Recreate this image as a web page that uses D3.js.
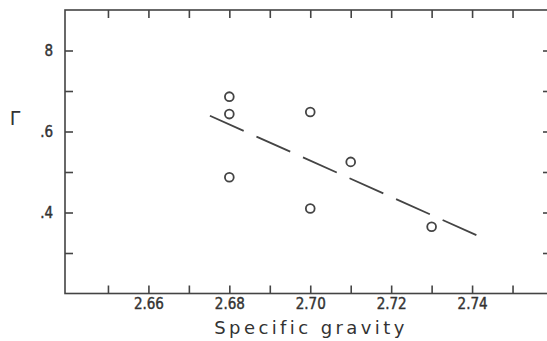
<!DOCTYPE html>
<html>
<head>
<meta charset="utf-8">
<script src="https://cdn.jsdelivr.net/npm/d3@7"></script>
<style>
  body { margin: 0; background: #fff; }
  text { font-family: "DejaVu Sans", sans-serif; fill: #333; }
</style>
</head>
<body>
<script>
// measured points (specific gravity, gamma)
const gravity = [2.68, 2.68, 2.68, 2.70, 2.70, 2.71, 2.73];
const gamma = [0.686, 0.643, 0.487, 0.648, 0.410, 0.525, 0.365];
// dashed trend line end points
const fitX = [2.6752, 2.742];
const fitY = [0.639, 0.340];
const xTicks = [2.65, 2.66, 2.67, 2.68, 2.69, 2.70, 2.71, 2.72, 2.73, 2.74, 2.75];
const xLabels = ["2.66", "2.68", "2.70", "2.72", "2.74"];
const yTicks = [0.3, 0.4, 0.5, 0.6, 0.7, 0.8];
const yLabels = { 0.8: "8", 0.6: ".6", 0.4: ".4" };

const width = 547, height = 341;
const mLeft = 65, mTop = 10, mRight = 549, mBottom = 293.5;
const ink = "#444";

const svg = d3.select("body").append("svg")
  .attr("width", width)
  .attr("height", height);

// the left frame line sits a little before 2.64
const x = d3.scaleLinear().domain([2.64, 2.76]).range([67.5, 553]);
const y = d3.scaleLinear().domain([0.2, 0.9]).range([mBottom, mTop]);

// frame
svg.append("rect")
  .attr("x", mLeft).attr("y", mTop)
  .attr("width", mRight - mLeft).attr("height", mBottom - mTop)
  .attr("fill", "none").attr("stroke", ink).attr("stroke-width", 1.6);

// inward ticks on all four sides
const fmtX = d => { const s = d.toFixed(2); return xLabels.includes(s) ? s : ""; };
const fmtY = d => yLabels[d.toFixed(1) * 1] || "";

const xb = svg.append("g").attr("transform", `translate(0,${mBottom})`)
  .call(d3.axisBottom(x).tickValues(xTicks).tickSize(-8).tickPadding(5).tickFormat(fmtX));
const xt = svg.append("g").attr("transform", `translate(0,${mTop})`)
  .call(d3.axisTop(x).tickValues(xTicks).tickSize(-8).tickFormat(""));
const yl = svg.append("g").attr("transform", `translate(${mLeft},0)`)
  .call(d3.axisLeft(y).tickValues(yTicks).tickSize(-8).tickPadding(12).tickFormat(fmtY));
const yr = svg.append("g").attr("transform", `translate(${mRight},0)`)
  .call(d3.axisRight(y).tickValues(yTicks).tickSize(-6).tickFormat(""));

[xb, xt, yl, yr].forEach(g => {
  g.select(".domain").remove();
  g.selectAll(".tick line").attr("stroke", ink).attr("stroke-width", 1.6);
  g.selectAll(".tick text").attr("fill", "#333")
    .attr("stroke", "#333").attr("stroke-width", 0.4)
    .style("font-size", "15px")
    .style("font-family", "'DejaVu Sans Condensed', 'DejaVu Sans', sans-serif");
});

// dashed fit line
svg.append("line")
  .attr("x1", x(fitX[0])).attr("y1", y(fitY[0]))
  .attr("x2", x(fitX[1])).attr("y2", y(fitY[1]))
  .attr("stroke", ink).attr("stroke-width", 1.8)
  .attr("stroke-dasharray", "37,14");

// data points
svg.selectAll("circle.pt")
  .data(gravity.map((g, i) => [g, gamma[i]]))
  .enter().append("circle")
  .attr("class", "pt")
  .attr("cx", d => x(d[0])).attr("cy", d => y(d[1]))
  .attr("r", 4.4)
  .attr("fill", "none").attr("stroke", ink).attr("stroke-width", 1.8);

// axis titles
svg.append("text")
  .attr("x", 311).attr("y", 334)
  .attr("text-anchor", "middle")
  .style("font-size", "18px").style("letter-spacing", "3.4px")
  .text("Specific gravity");

svg.append("text")
  .attr("x", 15).attr("y", 125)
  .attr("text-anchor", "middle")
  .style("font-size", "19px")
  .text("Γ");
</script>
</body>
</html>
